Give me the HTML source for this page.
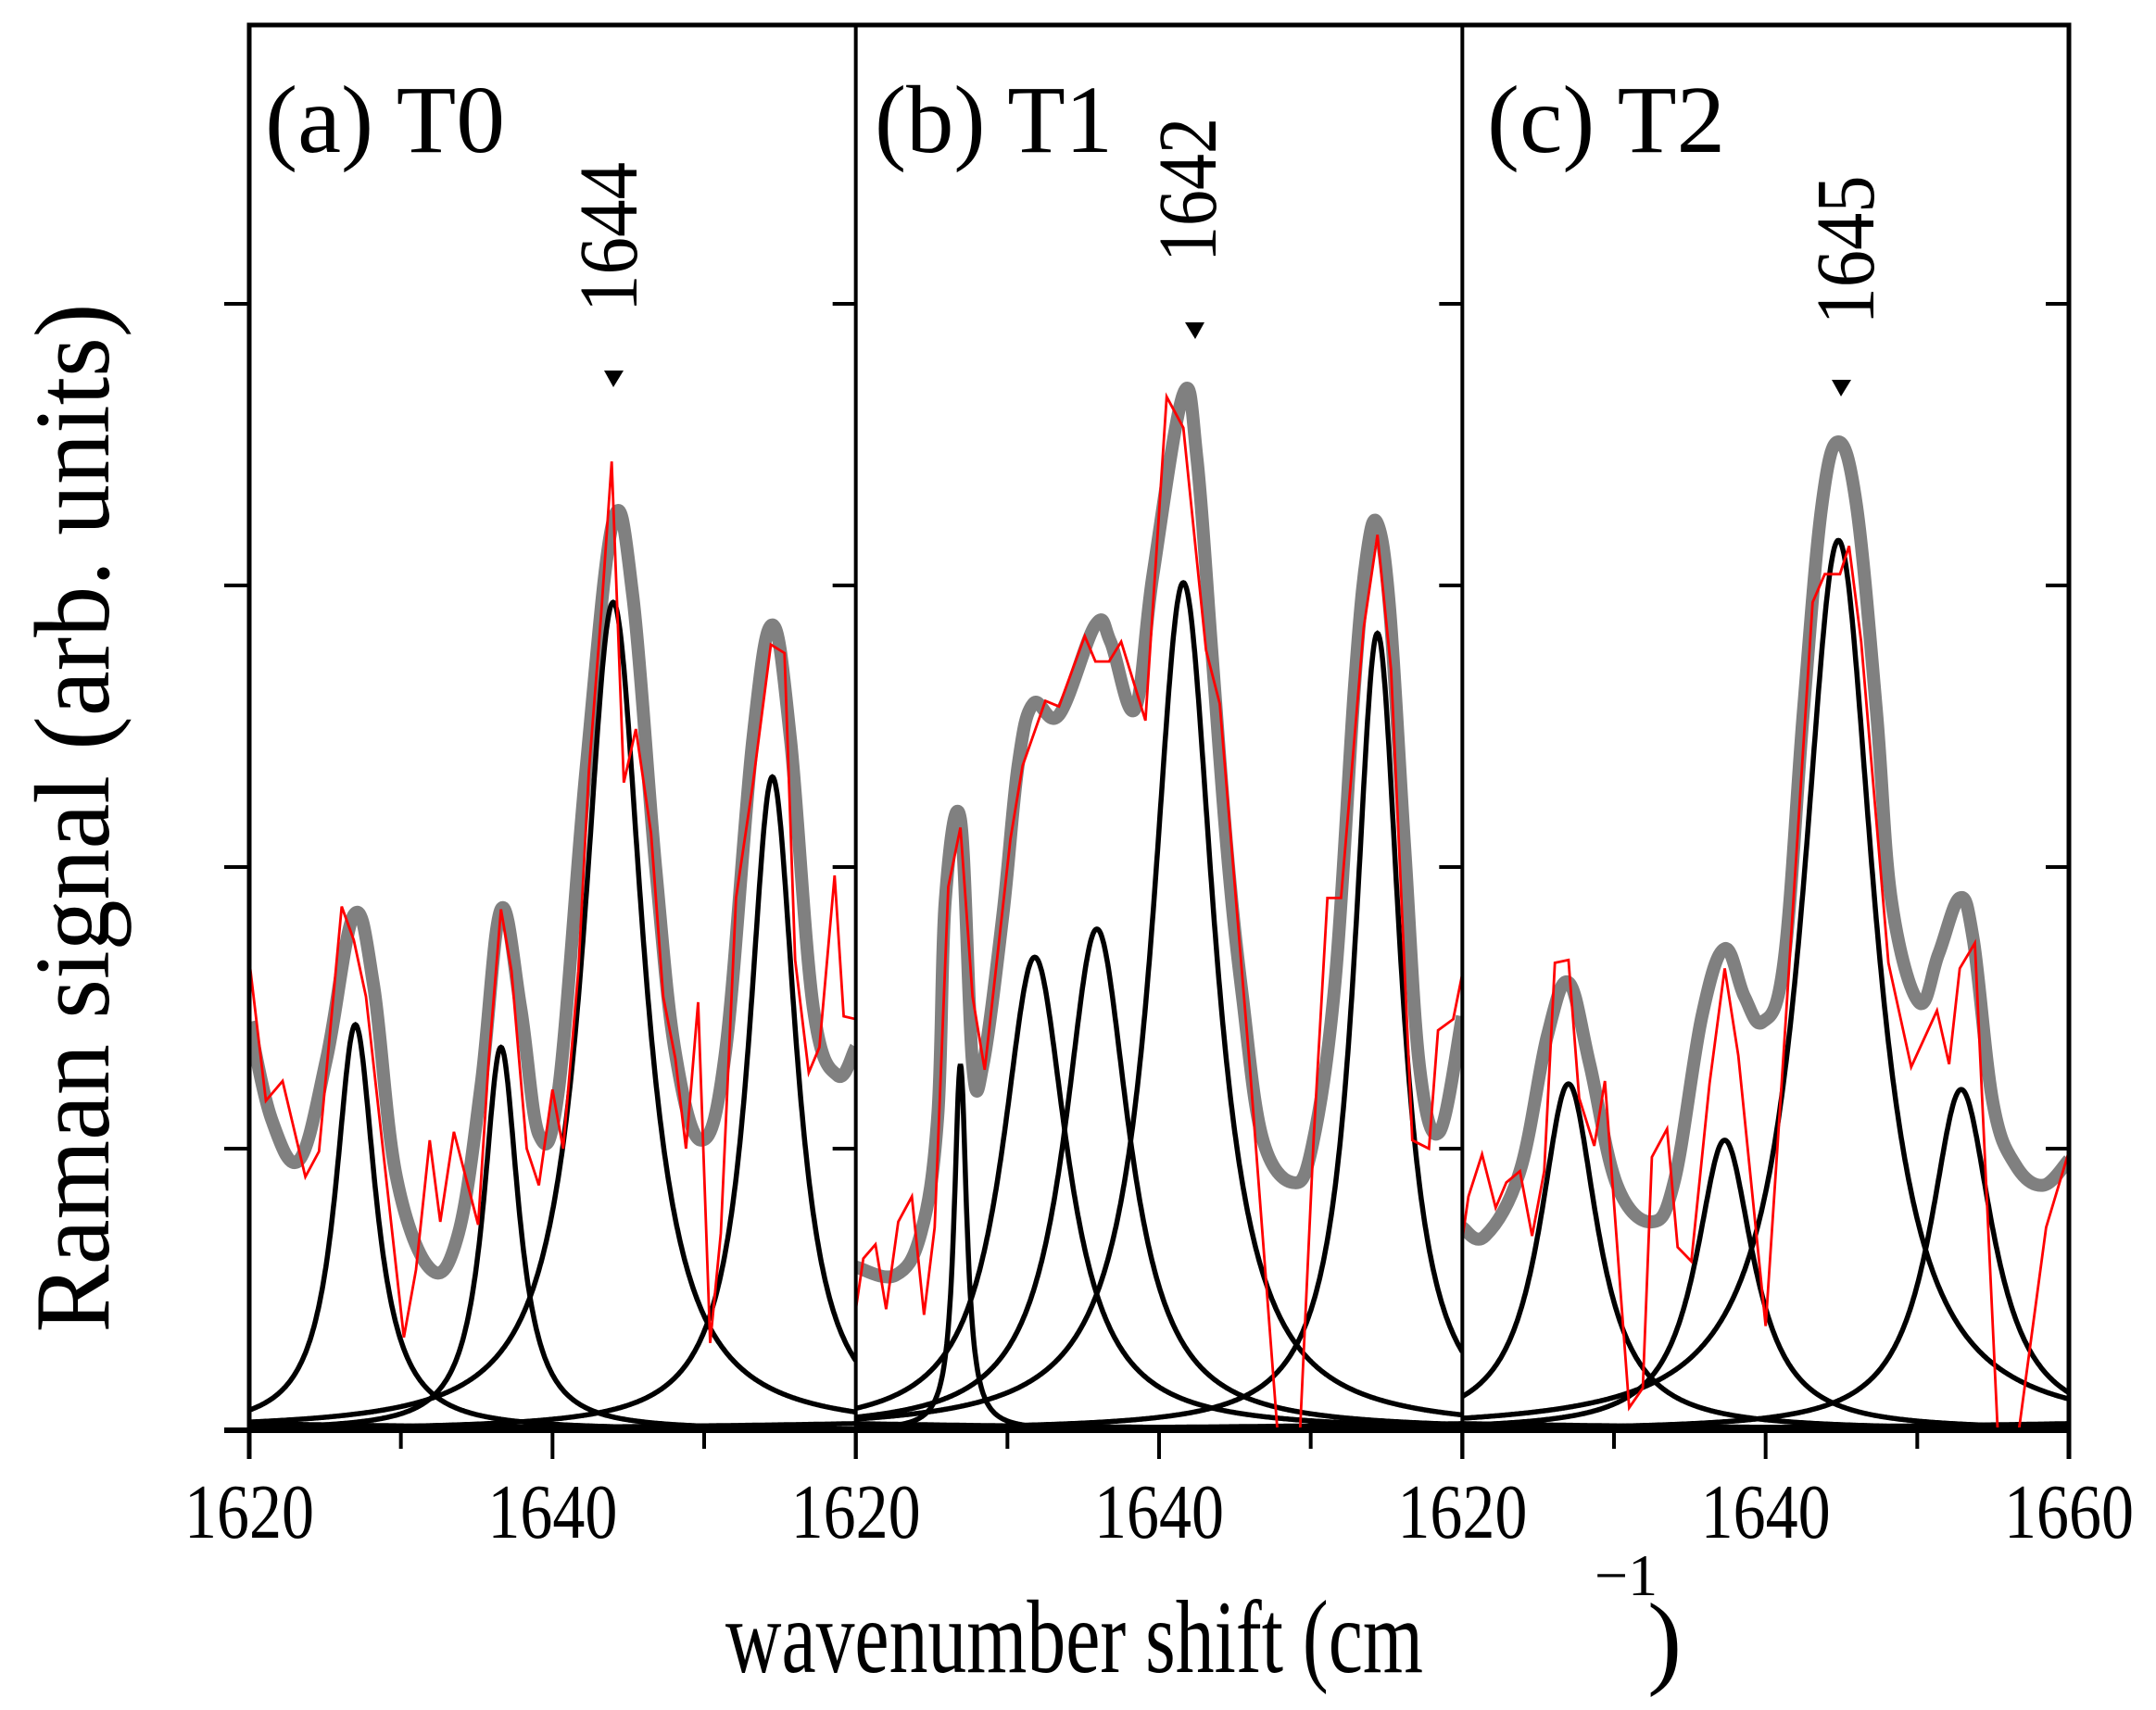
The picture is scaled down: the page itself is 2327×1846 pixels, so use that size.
<!DOCTYPE html>
<html><head><meta charset="utf-8"><style>
html,body{margin:0;padding:0;background:#fff;}
svg{display:block;}
text{font-family:"Liberation Serif",serif;fill:#000;}
</style></head><body>
<svg id="chart" width="2327" height="1846" viewBox="0 0 2327 1846" xmlns="http://www.w3.org/2000/svg">
<defs>
<clipPath id="clip0"><rect x="269" y="27" width="655" height="1517"/></clipPath>
<clipPath id="clip1"><rect x="924" y="27" width="655" height="1517"/></clipPath>
<clipPath id="clip2"><rect x="1578" y="27" width="655" height="1517"/></clipPath>
</defs>
<g id="marks"></g>
<g id="axes"></g>
<text x="0" y="0" font-size="116" textLength="1111" lengthAdjust="spacingAndGlyphs" transform="translate(117,883) rotate(-90)" text-anchor="middle">Raman signal (arb. units)</text>
<text x="783" y="1805" font-size="112" textLength="753" lengthAdjust="spacingAndGlyphs">wavenumber shift (cm</text>
<text x="1721" y="1722" font-size="64">−1</text>
<text x="1778" y="1808" font-size="112">)</text>
<text x="286" y="164" font-size="104" textLength="259" lengthAdjust="spacingAndGlyphs">(a) T0</text>
<text x="944" y="164" font-size="104" textLength="257" lengthAdjust="spacingAndGlyphs">(b) T1</text>
<text x="1605" y="164" font-size="104" textLength="257" lengthAdjust="spacingAndGlyphs">(c) T2</text>
<text font-size="90" textLength="162" lengthAdjust="spacingAndGlyphs" text-anchor="middle" transform="translate(687,256) rotate(-90)">1644</text>
<text font-size="90" textLength="156" lengthAdjust="spacingAndGlyphs" text-anchor="middle" transform="translate(1312,205) rotate(-90)">1642</text>
<text font-size="90" textLength="161" lengthAdjust="spacingAndGlyphs" text-anchor="middle" transform="translate(2022,270) rotate(-90)">1645</text>
<polygon points="652,400 673,400 662,418" fill="#000"/>
<polygon points="1279,348 1300,348 1290,366" fill="#000"/>
<polygon points="1977,410 1998,410 1987,428" fill="#000"/>
</svg>
<script>
// ---- data ----
const xTicks = [1620, 1640, 1660];
const xTickLabelsA = ["1620", "1640"];
const xTickLabelsB = ["1620", "1640"];
const xTickLabelsC = ["1620", "1640", "1660"];
const yTicks = [0, 1, 2, 3, 4];

// Lorentzian components (center, height, hwhm)
const compCenterA = [1627.0, 1636.6, 1644.0, 1654.5];
const compHeightA = [1.44, 1.36, 2.94, 2.32];
const compWidthA  = [1.6, 1.4, 2.4, 1.9];
const compCenterB = [1626.9, 1631.8, 1635.9, 1641.6, 1654.4];
const compHeightB = [1.30, 1.68, 1.78, 3.01, 2.83];
const compWidthB  = [0.5, 2.6, 2.6, 2.5, 1.85];
const compCenterC = [1627.0, 1637.3, 1644.8, 1652.9];
const compHeightC = [1.23, 1.03, 3.16, 1.21];
const compWidthC  = [2.3, 2.3, 2.9, 2.5];
const baseCenter = [1600, 1680];
const baseHeight = [0.04, 0.04];
const baseWidth  = [25, 25];

// fitted envelope (gray)
const fitXA = [1620,1621.5,1623.3,1625.1,1626.9,1628.2,1629.7,1632.0,1633.8,1635.3,1636.6,1637.9,1639.1,1640.4,1642.2,1644.0,1645.3,1646.8,1648.1,1649.8,1651.4,1653.2,1654.5,1655.7,1657.2,1658.8,1660];
const fitYA = [1.45,1.10,0.96,1.32,1.83,1.58,0.90,0.57,0.70,1.23,1.85,1.50,1.05,1.21,2.34,3.23,2.96,2.0,1.34,1.03,1.34,2.45,2.86,2.45,1.50,1.26,1.36];
const fitXB = [1620,1622.6,1624.3,1625.4,1625.9,1626.9,1627.7,1628.4,1629.7,1630.7,1631.7,1633.4,1635.8,1636.8,1638.4,1639.6,1641.6,1642.5,1643.5,1644.5,1645.5,1646.8,1648.8,1650.1,1651.6,1652.9,1653.7,1654.4,1655.2,1656.2,1657.2,1658.5,1660];
const fitYB = [0.58,0.55,0.70,1.11,1.88,2.17,1.30,1.30,1.83,2.36,2.58,2.54,2.86,2.80,2.56,3.04,3.68,3.45,2.75,2.05,1.54,1.04,0.88,1.01,1.59,2.65,3.11,3.22,2.92,2.07,1.28,1.06,1.47];
const fitXC = [1620,1621.5,1623.8,1625.6,1627.0,1628.4,1630.2,1632.5,1634.0,1635.8,1637.3,1638.6,1639.8,1641.2,1642.5,1643.7,1644.8,1646.0,1647.3,1648.3,1650.1,1651.4,1652.8,1653.7,1655.0,1656.5,1658.3,1660];
const fitYC = [0.72,0.69,0.92,1.40,1.59,1.30,0.87,0.74,0.89,1.47,1.71,1.54,1.45,1.66,2.56,3.28,3.51,3.28,2.56,1.88,1.52,1.69,1.89,1.74,1.16,0.94,0.87,0.96];

// measured spectra (red)
const dataXA = [1620,1621.1,1622.2,1623.7,1624.6,1626.1,1626.9,1627.7,1630.2,1631.0,1631.9,1632.6,1633.5,1635.1,1635.8,1636.6,1637.3,1638.3,1639.1,1640.0,1640.7,1641.7,1642.4,1643.2,1643.9,1644.7,1645.5,1646.5,1647.3,1648.1,1648.8,1649.6,1650.4,1651.1,1652.1,1653.2,1654.4,1655.3,1656.0,1656.9,1657.6,1658.6,1659.2,1660];
const dataYA = [1.67,1.17,1.24,0.90,0.99,1.86,1.74,1.54,0.33,0.57,1.03,0.74,1.06,0.73,1.32,1.85,1.63,1.0,0.87,1.21,1.0,1.63,2.34,2.89,3.44,2.30,2.49,2.12,1.54,1.32,1.0,1.52,0.31,0.70,1.89,2.29,2.79,2.76,1.67,1.27,1.36,1.97,1.47,1.46];
const dataXB = [1620,1620.5,1621.3,1622.0,1622.8,1623.7,1624.5,1625.2,1626.1,1626.9,1627.7,1628.5,1630.2,1631.0,1632.5,1633.4,1635.1,1635.8,1636.7,1637.5,1639.1,1640.5,1641.6,1643.1,1644.0,1646.0,1647.8,1649.3,1650.2,1651.1,1652.0,1653.5,1654.4,1655.3,1656.7,1657.8,1658.4,1659.4,1660];
const dataYB = [0.43,0.61,0.66,0.43,0.74,0.83,0.41,0.72,1.93,2.14,1.54,1.28,2.10,2.36,2.59,2.57,2.82,2.73,2.73,2.80,2.52,3.67,3.56,2.77,2.58,1.28,0.0,0.0,1.04,1.89,1.89,2.85,3.18,2.70,1.03,1.00,1.42,1.46,1.62];
const dataXC = [1620,1620.4,1621.3,1622.2,1622.9,1623.8,1624.6,1625.4,1626.1,1627.0,1627.7,1628.7,1629.4,1631.0,1631.9,1632.5,1633.5,1634.2,1635.1,1636.3,1637.3,1638.2,1640.0,1641.2,1642.2,1643.1,1643.9,1644.9,1645.5,1646.3,1648.1,1649.6,1651.3,1652.1,1652.8,1653.8,1655.3,1656.7,1658.5,1660];
const dataYC = [0.68,0.83,0.98,0.79,0.88,0.92,0.69,0.92,1.66,1.67,1.18,1.01,1.24,0.08,0.15,0.97,1.07,0.65,0.60,1.23,1.64,1.33,0.37,1.35,2.19,2.94,3.04,3.04,3.14,2.80,1.66,1.29,1.49,1.30,1.64,1.73,0.0,0.0,0.72,0.99];

// ---- layout ----
const NS = "http://www.w3.org/2000/svg";
const plotL = 269, plotR = 2233, plotT = 27, plotB = 1544;
const panelW = (plotR - plotL) / 3;
const xMin = 1620, xMax = 1660, yUnit = 304;
function xScale(p, v) { return plotL + p * panelW + (v - xMin) / (xMax - xMin) * panelW; }
function yScale(v) { return plotB - v * yUnit; }
const marks = document.getElementById('marks');
const axes = document.getElementById('axes');
function mk(tag, parent) { const e = document.createElementNS(NS, tag); parent.appendChild(e); return e; }
function polyPath(p, xs, ys) {
  let d = '';
  for (let i = 0; i < xs.length; i++) d += (i ? 'L' : 'M') + xScale(p, xs[i]).toFixed(1) + ',' + yScale(ys[i]).toFixed(1);
  return d;
}
function smoothPath(p, xs, ys) {
  const pts = xs.map((x, i) => [xScale(p, x), yScale(ys[i])]);
  let d = 'M' + pts[0][0].toFixed(1) + ',' + pts[0][1].toFixed(1);
  for (let i = 0; i < pts.length - 1; i++) {
    const p0 = pts[Math.max(0, i - 1)], p1 = pts[i], p2 = pts[i + 1], p3 = pts[Math.min(pts.length - 1, i + 2)];
    const t = 0.18;
    const c1 = [p1[0] + (p2[0] - p0[0]) * t, p1[1] + (p2[1] - p0[1]) * t];
    const c2 = [p2[0] - (p3[0] - p1[0]) * t, p2[1] - (p3[1] - p1[1]) * t];
    d += 'C' + c1[0].toFixed(1) + ',' + c1[1].toFixed(1) + ' ' + c2[0].toFixed(1) + ',' + c2[1].toFixed(1) + ' ' + p2[0].toFixed(1) + ',' + p2[1].toFixed(1);
  }
  return d;
}
function lorPath(p, c, h, w) {
  let d = '';
  for (let k = 0; k <= 800; k++) {
    const x = xMin + k * 0.05;
    const y = h * w * w / ((x - c) * (x - c) + w * w);
    d += (k ? 'L' : 'M') + xScale(p, x).toFixed(1) + ',' + yScale(y).toFixed(1);
  }
  return d;
}
const panels = [
  {name:'a', cc:compCenterA, ch:compHeightA, cw:compWidthA, fx:fitXA, fy:fitYA, dx:dataXA, dy:dataYA},
  {name:'b', cc:compCenterB, ch:compHeightB, cw:compWidthB, fx:fitXB, fy:fitYB, dx:dataXB, dy:dataYB},
  {name:'c', cc:compCenterC, ch:compHeightC, cw:compWidthC, fx:fitXC, fy:fitYC, dx:dataXC, dy:dataYC}
];
panels.forEach((P, p) => {
  const g = mk('g', marks);
  g.setAttribute('clip-path', 'url(#clip' + p + ')');
  
  
  const fit = mk('path', g);
  fit.setAttribute('d', smoothPath(p, P.fx, P.fy));
  fit.setAttribute('fill', 'none'); fit.setAttribute('stroke', '#808080');
  fit.setAttribute('stroke-width', '14'); fit.setAttribute('stroke-linejoin', 'round');
  
  
  for (let i = 0; i < baseCenter.length; i++) {
    const b = mk('path', g);
    b.setAttribute('d', lorPath(p, baseCenter[i], baseHeight[i], baseWidth[i]));
    b.setAttribute('fill', 'none'); b.setAttribute('stroke', '#000'); b.setAttribute('stroke-width', '5');
    
    
  }
  for (let i = 0; i < P.cc.length; i++) {
    const c = mk('path', g);
    c.setAttribute('d', lorPath(p, P.cc[i], P.ch[i], P.cw[i]));
    c.setAttribute('fill', 'none'); c.setAttribute('stroke', '#000'); c.setAttribute('stroke-width', '5.5');
    
    
  }
  const r = mk('path', g);
  r.setAttribute('d', polyPath(p, P.dx, P.dy));
  r.setAttribute('fill', 'none'); r.setAttribute('stroke', '#ff0000'); r.setAttribute('stroke-width', '2.8');
  
  
});

// ---- axes ----
function line(x1, y1, x2, y2, w, name) {
  const l = mk('line', axes);
  l.setAttribute('x1', x1); l.setAttribute('y1', y1); l.setAttribute('x2', x2); l.setAttribute('y2', y2);
  l.setAttribute('stroke', '#000'); l.setAttribute('stroke-width', w);
  
  
}
line(plotL, plotT - 2.5, plotL, plotB + 31, 5, 'y-axis-line');
line(plotL - 2.5, plotT, plotR + 2.5, plotT, 5, 'top-frame');
line(plotR, plotT - 2.5, plotR, plotB + 31, 5, 'right-frame');
line(plotL + panelW, plotT, plotL + panelW, plotB + 31, 4, 'panel-divider-1');
line(plotL + 2 * panelW, plotT, plotL + 2 * panelW, plotB + 31, 4, 'panel-divider-2');
line(242, plotB, plotR + 2.5, plotB, 6, 'x-axis-line');
yTicks.forEach(v => {
  line(242, yScale(v), plotL, yScale(v), 4, 'y-tick');
});
for (let p = 0; p < 3; p++) {
  const re = plotL + (p + 1) * panelW;
  yTicks.forEach(v => { if (v > 0) line(re - 25, yScale(v), re, yScale(v), 4, 'y-tick-inner'); });
  [1630, 1650].forEach(v => line(xScale(p, v), plotB, xScale(p, v), plotB + 20, 4, 'x-minor-tick'));
  xTicks.forEach(v => line(xScale(p, v), plotB, xScale(p, v), plotB + 31, 4, 'x-major-tick'));
}
[xTickLabelsA, xTickLabelsB, xTickLabelsC].forEach((labels, p) => {
  labels.forEach((lab, i) => {
    const t = mk('text', axes);
    t.setAttribute('x', xScale(p, xTicks[i]));
    t.setAttribute('y', 1660);
    t.setAttribute('font-size', '84');
    t.setAttribute('text-anchor', 'middle');
    t.setAttribute('textLength', '140');
    t.setAttribute('lengthAdjust', 'spacingAndGlyphs');
    
    
    t.textContent = lab;
  });
});
</script>
</body></html>
